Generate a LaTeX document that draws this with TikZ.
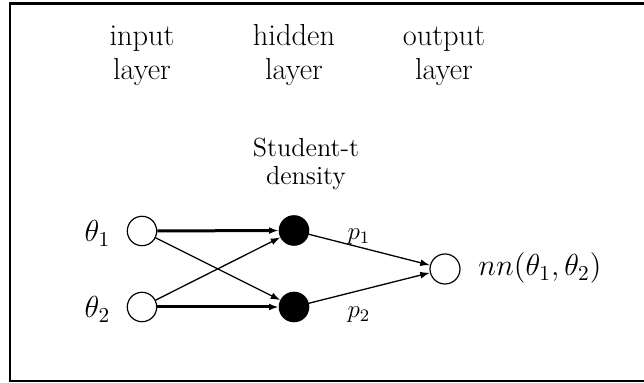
\documentclass[tikz,border=0pt]{standalone}
\usepackage{fix-cm}
\usetikzlibrary{arrows.meta}
\begin{document}
\begin{tikzpicture}[x=0.5pt,y=-0.5pt,
  neuron/.style={circle, draw, line width=0.6pt, minimum size=14.7pt, inner sep=0pt},
  hid/.style={neuron, fill=black},
  lbl/.style={inner sep=0pt, font=\fontsize{15.2}{16.7}\selectfont, align=center},
  smalllbl/.style={inner sep=0pt, font=\fontsize{13.1}{14.2}\selectfont, align=center},
  plbl/.style={inner sep=0pt, font=\fontsize{12.5}{14}\selectfont},
  arr/.style={-{Latex[length=4.8pt,width=3.4pt]}, line width=0.65pt},
  tarr/.style={arr, line width=1.5pt},
  frame/.style={line width=1.3pt}]
\useasboundingbox (0,0) rectangle (644,383);
\coordinate (ftr) at (660,3.3);
\coordinate (ftl) at (10,3.3);
\coordinate (fbl) at (10,381);
\coordinate (fbr) at (660,381);
\draw[frame] (ftr) -- (ftl) -- (fbl) -- (fbr);

\node[lbl, anchor=base] (tin) at (142,79.3) {input\\layer};
\node[lbl, anchor=base] (thid) at (294,79.3) {hidden\\layer};
\node[lbl, anchor=base] (tout) at (444,79.3) {output\\layer};
\node[smalllbl, anchor=base] (st) at (306,185) {Student-t\\density};

\node[neuron] (i1) at (142,231) {};
\node[neuron] (i2) at (142,307) {};
\node[hid] (h1) at (294,230.5) {};
\node[hid] (h2) at (294,307) {};
\node[neuron, minimum size=15pt] (o) at (445,269) {};

\node[lbl, anchor=base] (th1) at (97.5,242) {$\theta_1$};
\node[lbl, anchor=base] (th2) at (97.5,318) {$\theta_2$};
\node[lbl, anchor=base west] (nn) at (478,275.5) {$nn(\theta_1,\theta_2)$};
\node[plbl, anchor=base] (p1) at (359,239.5) {$p_1$};
\node[plbl, anchor=base] (p2) at (359,318) {$p_2$};

\draw[tarr] (i1) -- (h1);
\draw[tarr] (i2) -- (h2);
\draw[arr] (i1) -- (h2);
\draw[arr] (i2) -- (h1);
\draw[arr] (h1) -- (o);
\draw[arr] (h2) -- (o);
\end{tikzpicture}
\end{document}
